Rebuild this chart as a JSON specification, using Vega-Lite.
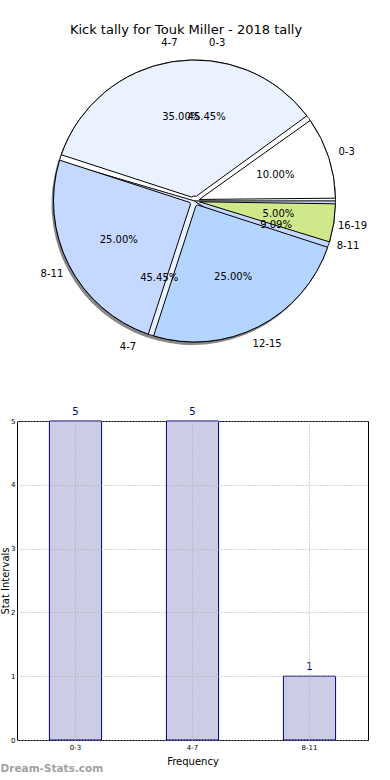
{
  "$schema": "https://vega.github.io/schema/vega-lite/v6.json",
  "padding": {"left": 0, "right": 0, "top": 23, "bottom": 0},
  "title": {"text": "Kick tally for Touk Miller - 2018 tally", "fontSize": 13, "fontWeight": "normal", "font": "DejaVu Sans", "color": "#000", "offset": 1, "anchor": "middle", "frame": "bounds"},
  "config": {"font": "DejaVu Sans", "view": {"stroke": null}},
  "datasets": {
    "tally2018": [
      {"cat": "0-3", "i": 1, "count": 2, "pct": "10.00%"},
      {"cat": "4-7", "i": 2, "count": 7, "pct": "35.00%"},
      {"cat": "8-11", "i": 3, "count": 5, "pct": "25.00%"},
      {"cat": "12-15", "i": 4, "count": 5, "pct": "25.00%"},
      {"cat": "16-19", "i": 5, "count": 1, "pct": "5.00%"}
    ],
    "career": [
      {"cat": "0-3", "i": 1, "count": 5, "pct": "45.45%"},
      {"cat": "4-7", "i": 2, "count": 5, "pct": "45.45%"},
      {"cat": "8-11", "i": 3, "count": 1, "pct": "9.09%"}
    ]
  },
  "spacing": 52,
  "vconcat": [
    {
      "width": 355,
      "height": 306,
      "resolve": {"scale": {"theta": "independent"}},
      "layer": [
        {
          "data": {"name": "career"},
          "mark": {"type": "arc", "radius": 141, "xOffset": -2, "yOffset": 3, "color": "#555555", "opacity": 0.7},
          "encoding": {
            "theta": {"field": "count", "type": "quantitative", "stack": true, "scale": {"range": [1.5707963, -4.712389]}},
            "order": {"field": "i", "type": "quantitative"}
          }
        },
        {
          "data": {"name": "career"},
          "mark": {"type": "arc", "radius": 141, "stroke": "#000", "strokeWidth": 0.8},
          "encoding": {
            "theta": {"field": "count", "type": "quantitative", "stack": true, "scale": {"range": [1.5707963, -4.712389]}},
            "order": {"field": "i", "type": "quantitative"},
            "color": {"field": "cat", "type": "nominal", "legend": null, "scale": {"domain": ["0-3", "4-7", "8-11", "12-15", "16-19"], "range": ["#ffffff", "#eaf1ff", "#c5d8ff", "#b4d5ff", "#cfe98a"]}}
          }
        },
        {
          "data": {"name": "tally2018"},
          "mark": {"type": "arc", "radius": 141, "innerRadius": 5, "padAngle": 0.04, "stroke": "#000", "strokeWidth": 1},
          "encoding": {
            "theta": {"field": "count", "type": "quantitative", "stack": true, "scale": {"range": [1.5707963, -4.712389]}},
            "order": {"field": "i", "type": "quantitative"},
            "color": {"field": "cat", "type": "nominal", "legend": null}
          }
        },
        {
          "data": {"name": "tally2018"},
          "mark": {"type": "text", "radius": 160, "fontSize": 10, "color": "#000"},
          "encoding": {
            "theta": {"field": "count", "type": "quantitative", "stack": true, "scale": {"range": [1.5707963, -4.712389]}},
            "order": {"field": "i", "type": "quantitative"},
            "text": {"field": "cat"}
          }
        },
        {
          "data": {"name": "career"},
          "mark": {"type": "text", "radius": 160, "fontSize": 10, "color": "#000"},
          "encoding": {
            "theta": {"field": "count", "type": "quantitative", "stack": true, "scale": {"range": [1.5707963, -4.712389]}},
            "order": {"field": "i", "type": "quantitative"},
            "text": {"field": "cat"}
          }
        },
        {
          "data": {"name": "tally2018"},
          "mark": {"type": "text", "radius": 85, "fontSize": 10, "color": "#000"},
          "encoding": {
            "theta": {"field": "count", "type": "quantitative", "stack": true, "scale": {"range": [1.5707963, -4.712389]}},
            "order": {"field": "i", "type": "quantitative"},
            "text": {"field": "pct"}
          }
        },
        {
          "data": {"name": "career"},
          "mark": {"type": "text", "radius": 85, "fontSize": 10, "color": "#000"},
          "encoding": {
            "theta": {"field": "count", "type": "quantitative", "stack": true, "scale": {"range": [1.5707963, -4.712389]}},
            "order": {"field": "i", "type": "quantitative"},
            "text": {"field": "pct"}
          }
        }
      ]
    },
    {
      "width": 351,
      "height": 319,
      "view": {"stroke": "#000", "strokeWidth": 1},
      "data": {"name": "career"},
      "title": {"text": "Dream-Stats.com", "orient": "bottom", "anchor": "start", "frame": "bounds", "fontSize": 10.5, "fontWeight": "bold", "color": "#a0a0a0", "offset": -2},
      "encoding": {
        "x": {
          "field": "cat", "type": "nominal", "sort": ["0-3", "4-7", "8-11"],
          "scale": {"paddingInner": 0, "paddingOuter": 0},
          "axis": {"title": "Frequency", "titleFontSize": 10, "titleFontWeight": "normal", "labelFontSize": 7, "labelAngle": 0, "ticks": false, "grid": true, "gridDash": [1, 2], "gridColor": "#aaaaaa", "bandPosition": 0.5, "domain": false, "zindex": 1, "labelPadding": 3, "titlePadding": 6, "labelColor": "#000", "titleColor": "#000"}
        },
        "y": {
          "field": "count", "type": "quantitative",
          "scale": {"domain": [0, 5], "nice": false},
          "axis": {"title": "Stat Intervals", "values": [0, 1, 2, 3, 4, 5], "labelFontSize": 7, "titleFontSize": 10, "titleFontWeight": "normal", "ticks": false, "grid": true, "gridDash": [1, 2], "gridColor": "#aaaaaa", "domain": false, "zindex": 1, "labelPadding": 2, "titlePadding": 0, "labelColor": "#000", "titleColor": "#000"}
        }
      },
      "layer": [
        {"mark": {"type": "bar", "width": {"band": 0.446}, "fill": "#ccccE5", "stroke": "#000080", "strokeWidth": 1}},
        {"mark": {"type": "text", "color": "#000080", "baseline": "bottom", "dy": -4, "fontSize": 10}, "encoding": {"text": {"field": "count"}}}
      ]
    }
  ]
}
